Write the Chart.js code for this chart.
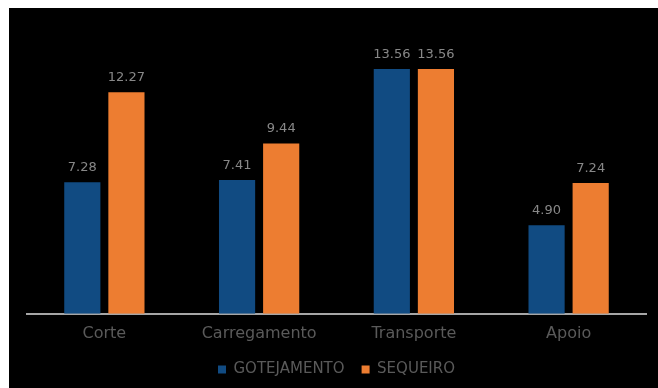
<!DOCTYPE html>
<html>
<head>
<meta charset="utf-8">
<script src="https://cdn.jsdelivr.net/npm/chart.js@4"></script>
<style>
    body { margin: 0; background: #ffffff; }
    #frame { position: absolute; left: 9px; top: 8px; width: 649px; height: 380px; background: #000000; }
</style>
</head>
<body>
<div id="frame"><canvas id="chart" width="649" height="380"></canvas></div>
<script>
// Chart data
const categories = ['Corte', 'Carregamento', 'Transporte', 'Apoio'];
const gotejamento = [7.28, 7.41, 13.56, 4.90];
const sequeiro = [12.27, 9.44, 13.56, 7.24];
const seriesNames = ['GOTEJAMENTO', 'SEQUEIRO'];

const FONT = "'DejaVu Sans', sans-serif";

// Draw the value above each bar
const valueLabels = {
    id: 'valueLabels',
    afterDatasetsDraw(chart) {
        const ctx = chart.ctx;
        ctx.save();
        ctx.font = '13px ' + FONT;
        ctx.fillStyle = '#888888';
        ctx.textAlign = 'center';
        ctx.textBaseline = 'bottom';
        chart.data.datasets.forEach((ds, i) => {
            chart.getDatasetMeta(i).data.forEach((bar, j) => {
                ctx.fillText(ds.data[j].toFixed(2), bar.x, bar.y - 8);
            });
        });
        ctx.restore();
    }
};

new Chart(document.getElementById('chart'), {
    type: 'bar',
    data: {
        labels: categories,
        datasets: [{
            label: seriesNames[0],
            data: gotejamento,
            backgroundColor: '#114b82'
        }, {
            label: seriesNames[1],
            data: sequeiro,
            backgroundColor: '#ed7d31'
        }]
    },
    options: {
        responsive: false,
        animation: false,
        categoryPercentage: 0.57,
        barPercentage: 0.82,
        layout: { padding: { left: 18, right: 12, top: 35, bottom: 1 } },
        scales: {
            x: {
                grid: { display: false },
                border: { color: '#a6a6a6', width: 2 },
                ticks: { color: '#5a5a5a', font: { family: FONT, size: 16 }, padding: 2 }
            },
            y: {
                display: false,
                min: 0,
                max: 15
            }
        },
        plugins: {
            legend: {
                position: 'bottom',
                labels: {
                    color: '#5a5a5a',
                    font: { family: FONT, size: 15 },
                    boxWidth: 8,
                    boxHeight: 8,
                    padding: 17
                }
            },
            tooltip: { enabled: false }
        }
    },
    plugins: [valueLabels]
});
</script>
</body>
</html>
